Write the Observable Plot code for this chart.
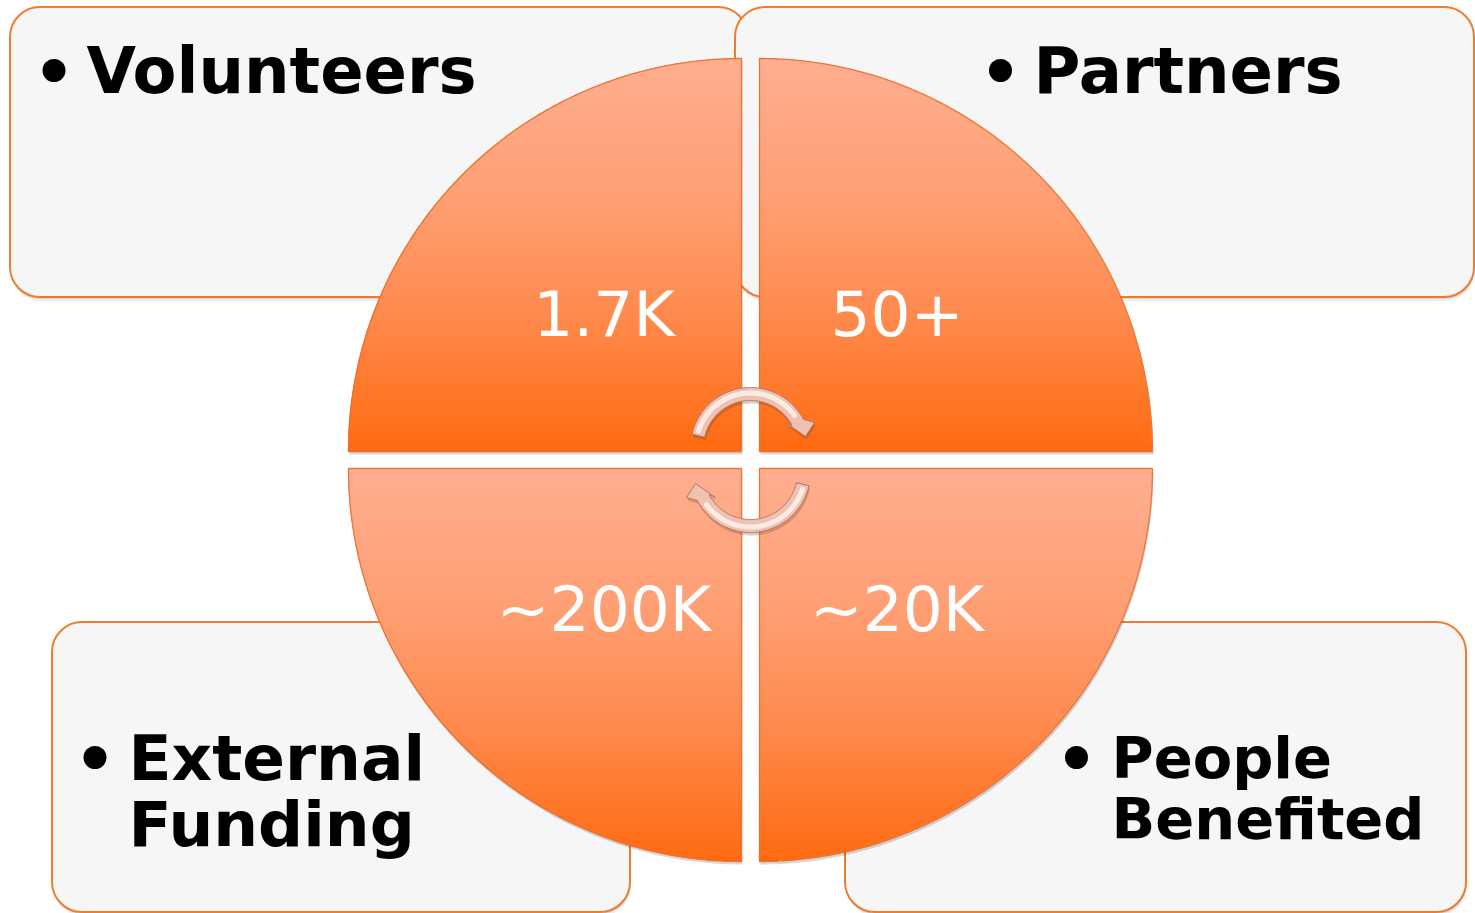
<!DOCTYPE html>
<html><head><meta charset="utf-8">
<script src="https://cdn.jsdelivr.net/npm/d3@7"></script>
<script src="https://cdn.jsdelivr.net/npm/@observablehq/plot@0.6"></script>
<style>html,body{margin:0;padding:0;background:#fff;overflow:hidden}</style>
</head><body><div id="chart"></div>
<script>
// ---- data ----
const categories = ["Volunteers", "Partners", "External Funding", "People Benefited"];
const labelLines = [["Volunteers"], ["Partners"], ["External", "Funding"], ["People", "Benefited"]];
const values = ["1.7K", "50+", "~200K", "~20K"];

// ---- layout (pixels) ----
const W = 1475, H = 913;
const CX = 750, CY = 459.5, R = 393, GX = 9, GY = 8.5;
const boxes = [[10, 7, 748, 297], [735, 7, 1474, 297], [52, 622, 630, 912], [845, 622, 1466, 912]];
const textX = [86, 1033, 128, 1111];
const firstBaseline = [92, 92, 779, 777];
const lineGap = [0, 0, 66, 61];
const labelSize = [64, 64, 63, 57.5];
const bulletPos = [[53.5, 70], [1000, 70], [94.5, 757], [1076, 757]];
const valueDX = 137.5, valueDYTop = -116, valueDYBottom = 162;

// ---- styles ----
const quadStops = [[0, "#ffae90"], [0.35, "#ff9f74"], [0.65, "#ff8a4e"], [1, "#ff6a10"]];
const quadColor = d3.scaleLinear().domain(quadStops.map(d => d[0])).range(quadStops.map(d => d[1])).interpolate(d3.interpolateRgb);

const quadCenter = i => {
  const sx = i % 2 ? 1 : -1, sy = i < 2 ? -1 : 1;
  return {sx, sy, x: CX + sx * GX, y: CY + sy * GY};
};
const quadAngles = [[90, 180], [0, 90], [180, 270], [270, 360]];

// outline polygons of the four quadrants
const quadPts = [];
categories.forEach((c, i) => {
  const q = quadCenter(i);
  quadPts.push({q: c, x: q.x, y: q.y});
  const [a0, a1] = quadAngles[i];
  for (let a = a0; a <= a1 + 1e-9; a += 0.5) {
    const t = a * Math.PI / 180;
    quadPts.push({q: c, x: q.x + R * Math.cos(t), y: q.y - R * Math.sin(t)});
  }
});
const quadShadow = quadPts.map(d => ({q: d.q, x: d.x + 1, y: d.y + 3}));

// horizontal strips that paint each quadrant's vertical gradient
const strips = [];
categories.forEach((c, i) => {
  const q = quadCenter(i);
  const top = q.sy < 0 ? q.y - R : q.y;
  for (let k = 0; k < R; k += 1) {
    const yMid = top + k + 0.5;
    const dy = Math.abs(yMid - q.y);
    const hw = Math.sqrt(Math.max(0, R * R - dy * dy));
    const xa = q.x, xb = q.x + q.sx * hw;
    strips.push({x1: Math.min(xa, xb), x2: Math.max(xa, xb), y1: top + k, y2: top + k + 1.6, color: quadColor(k / R)});
  }
});

// circular arrows
const arrowC = [750, 447];
function arrowShape(cx, cy) {
  const pts = [];
  const rO = 60, rI = 47, aStart = 167, aEnd = 28;
  for (let a = aStart; a >= aEnd; a -= 1) {
    const t = a * Math.PI / 180;
    pts.push([cx + rO * Math.cos(t), cy - rO * Math.sin(t)]);
  }
  pts.push([cx + 64, cy - 25]);
  pts.push([cx + 55, cy - 11]);
  pts.push([cx + 35, cy - 25]);
  for (let a = aEnd; a <= aStart; a += 1) {
    const t = a * Math.PI / 180;
    pts.push([cx + rI * Math.cos(t), cy - rI * Math.sin(t)]);
  }
  return pts;
}
function arrowMid(cx, cy) {
  const pts = [];
  for (let a = 162; a >= 36; a -= 2) {
    const t = a * Math.PI / 180;
    pts.push([cx + 54.5 * Math.cos(t), cy - 54.5 * Math.sin(t)]);
  }
  return pts;
}
const flip = ([x, y]) => [2 * CX - x, 2 * CY - y];
const topArrow = arrowShape(...arrowC);
const topMid = arrowMid(...arrowC);
const arrowPts = [
  ...topArrow.map(([x, y]) => ({a: "top", x, y})),
  ...topArrow.map(flip).map(([x, y]) => ({a: "bottom", x, y}))
];
const arrowShadowPts = arrowPts.map(d => ({a: d.a, x: d.x + 1, y: d.y + 3}));
const arrowMidPts = [
  ...topMid.map(([x, y]) => ({a: "top", x, y})),
  ...topMid.map(flip).map(([x, y]) => ({a: "bottom", x, y}))
];

const boxData = boxes.map(([x1, y1, x2, y2], i) => ({c: categories[i], x1, y1, x2, y2}));
const valueData = values.map((v, i) => {
  const q = quadCenter(i);
  return {v, x: q.x + q.sx * valueDX, y: q.y + (i < 2 ? valueDYTop : valueDYBottom)};
});
const lineData = [];
labelLines.forEach((lines, i) => lines.forEach((t, j) =>
  lineData.push({t, i, x: textX[i], y: firstBaseline[i] + j * lineGap[i]})));
const bulletData = bulletPos.map(([x, y], i) => ({c: categories[i], x, y}));

const svg = Plot.plot({
  width: W, height: H,
  margin: 0,
  style: {background: "#fff"},
  x: {type: "linear", domain: [0, W], range: [0, W], axis: null},
  y: {type: "linear", domain: [0, H], range: [0, H], axis: null},
  color: {type: "identity"},
  marks: [
    // box shadows + boxes
    Plot.rect(boxData, {x1: "x1", x2: "x2", y1: "y1", y2: "y2", rx: 30, dx: 1, dy: 4, fill: "#000", fillOpacity: 0.07}),
    Plot.rect(boxData, {x1: "x1", x2: "x2", y1: "y1", y2: "y2", rx: 30, dx: 0.5, dy: 2, fill: "#000", fillOpacity: 0.1}),
    Plot.rect(boxData, {x1: "x1", x2: "x2", y1: "y1", y2: "y2", rx: 30,
      fill: "#f6f6f6", stroke: "#ED7D31", strokeWidth: 2}),
    // quadrant shadow, gradient strips, outline
    Plot.line(quadShadow, {x: "x", y: "y", z: "q", curve: "linear-closed", fill: "#000", fillOpacity: 0.16, stroke: "none"}),
    Plot.rect(strips, {x1: "x1", x2: "x2", y1: "y1", y2: "y2", fill: "color"}),
    Plot.line(quadPts, {x: "x", y: "y", z: "q", curve: "linear-closed",
      fill: "none", stroke: "#e8702c", strokeWidth: 1.3, strokeOpacity: 0.9}),
    // arrows
    Plot.line(arrowShadowPts, {x: "x", y: "y", z: "a", curve: "linear-closed", fill: "#7a3000", fillOpacity: 0.25, stroke: "none"}),
    Plot.line(arrowPts, {x: "x", y: "y", z: "a", curve: "linear-closed",
      fill: "#efc1b0", stroke: "#a97a6c", strokeWidth: 1}),
    Plot.line(arrowMidPts, {x: "x", y: "y", z: "a", stroke: "#fcebe4", strokeWidth: 5, strokeLinecap: "round"}),
    // values
    Plot.text(valueData, {x: "x", y: "y", text: "v", lineAnchor: "bottom", textAnchor: "middle",
      fill: "#fff", fontSize: 63, fontFamily: "DejaVu Sans"}),
    // category labels
    Plot.dot(bulletData, {x: "x", y: "y", r: 11.5, fill: "#000"}),
    ...labelSize.map((fs, i) => Plot.text(lineData.filter(d => d.i === i), {x: "x", y: "y", text: "t",
      lineAnchor: "bottom", textAnchor: "start", fill: "#000", fontSize: fs, fontWeight: "bold",
      fontFamily: "DejaVu Sans"}))
  ]
});
document.getElementById("chart").appendChild(svg);
</script>
</body></html>
